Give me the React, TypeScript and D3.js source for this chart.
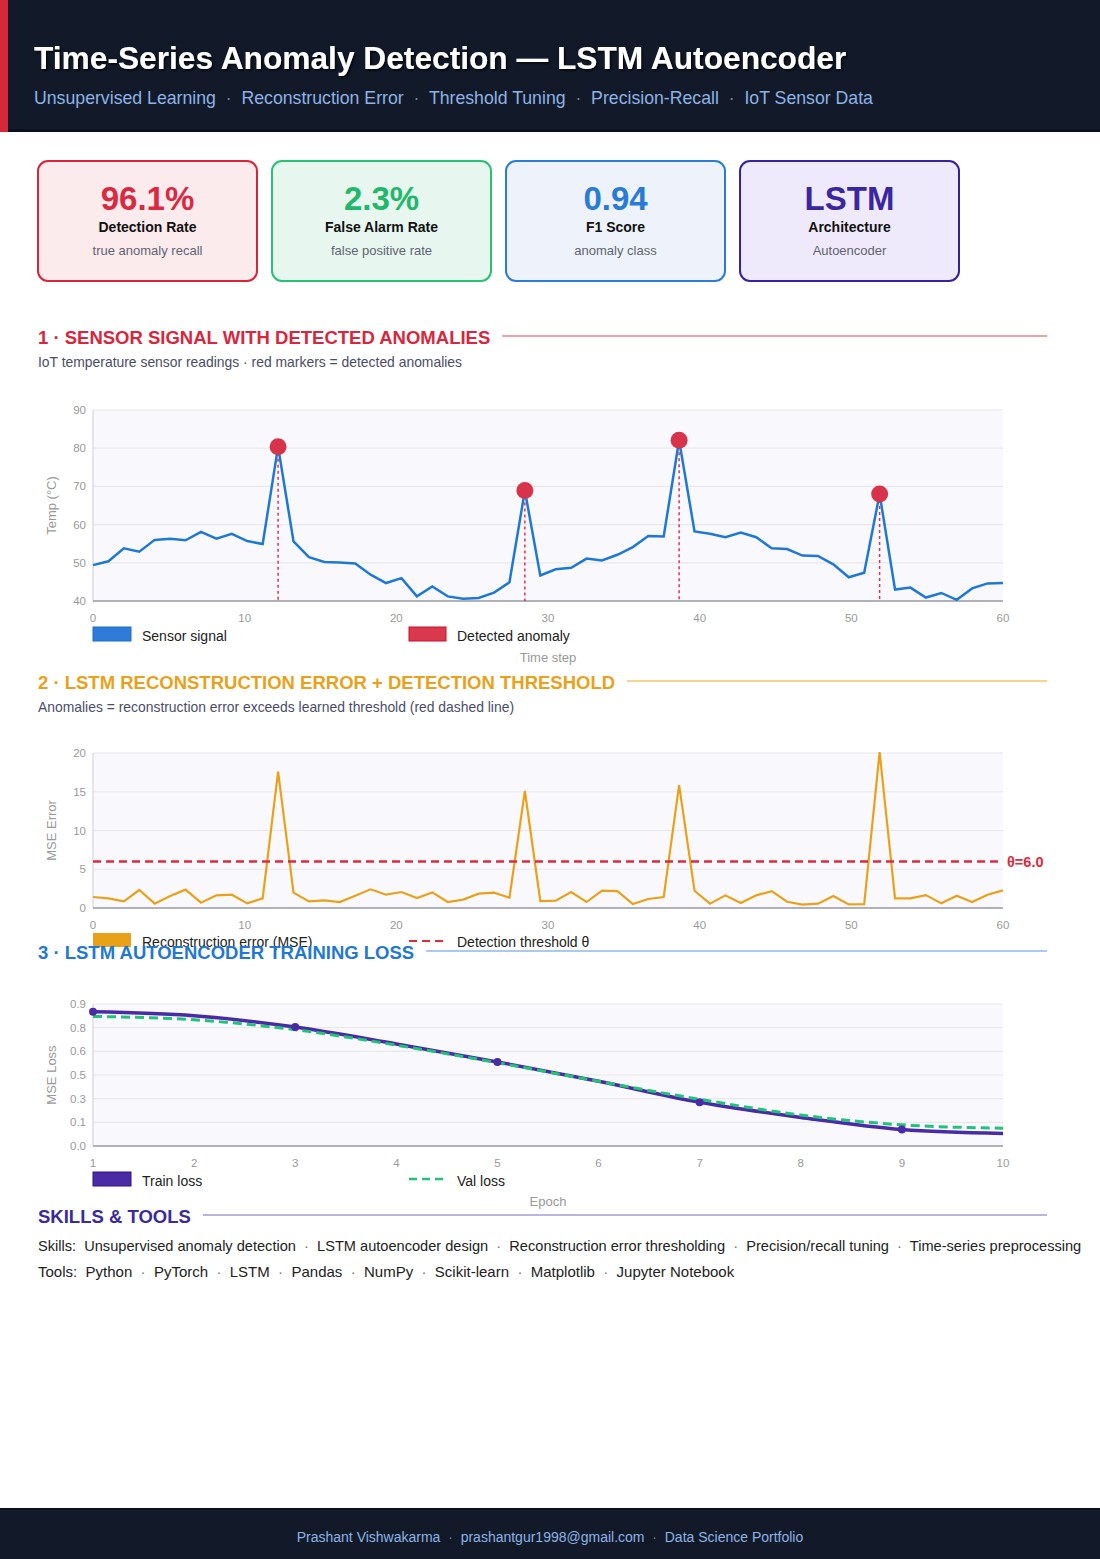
import React from "react";
import * as d3 from "d3";

const FONT = "'Liberation Sans', Arial, Helvetica, sans-serif";
const W = 1100;
const H = 1559;

// header + KPI cards
const headerTags = [
  "Unsupervised Learning",
  "Reconstruction Error",
  "Threshold Tuning",
  "Precision-Recall",
  "IoT Sensor Data",
];
const kpiValues = ["96.1%", "2.3%", "0.94", "LSTM"];
const kpiLabels = ["Detection Rate", "False Alarm Rate", "F1 Score", "Architecture"];
const kpiNotes = ["true anomaly recall", "false positive rate", "anomaly class", "Autoencoder"];

// sensor readings, one per time step
const sensorTemp = [
  49.4, 50.4, 53.8, 52.9, 56.0, 56.3, 55.9, 58.1, 56.3, 57.6,
  55.7, 54.9, 80.4, 55.6, 51.5, 50.2, 50.1, 49.8, 46.9, 44.7,
  46.0, 41.2, 43.8, 41.2, 40.6, 40.8, 42.2, 44.9, 68.9, 46.7,
  48.3, 48.7, 51.1, 50.6, 52.1, 54.1, 57.0, 56.9, 82.1, 58.2,
  57.6, 56.7, 57.9, 56.7, 53.8, 53.6, 51.9, 51.8, 49.6, 46.2,
  47.4, 68.0, 43.0, 43.5, 40.9, 42.1, 40.3, 43.3, 44.6, 44.7,
];
const anomalySteps = [12, 28, 38, 51];

// reconstruction MSE per time step
const reconError = [
  1.42, 1.25, 0.86, 2.32, 0.56, 1.55, 2.37, 0.69, 1.63, 1.72,
  0.6, 1.25, 17.6, 1.98, 0.86, 0.99, 0.77, 1.59, 2.41, 1.72,
  2.06, 1.29, 2.02, 0.77, 1.08, 1.85, 1.98, 1.33, 15.1, 0.9,
  0.95, 2.05, 0.77, 2.23, 2.18, 0.51, 1.16, 1.41, 15.85, 2.23,
  0.56, 1.63, 0.64, 1.63, 2.18, 0.81, 0.43, 0.56, 1.54, 0.47,
  0.51, 20.1, 1.24, 1.24, 1.67, 0.6, 1.58, 0.77, 1.71, 2.27,
];
const threshold = 6.0;

// training history
const epochs = [1, 2, 3, 4, 5, 6, 7, 8, 9, 10];
const trainLoss = [0.851, 0.826, 0.754, 0.647, 0.533, 0.41, 0.277, 0.181, 0.104, 0.079];
const valLoss = [0.821, 0.8, 0.737, 0.639, 0.528, 0.41, 0.296, 0.196, 0.134, 0.113];
const lossTicks = [0, 0.15, 0.3, 0.45, 0.6, 0.75, 0.9];
const markedEpochs = [1, 3, 5, 7, 9];

const skills = [
  "Unsupervised anomaly detection",
  "LSTM autoencoder design",
  "Reconstruction error thresholding",
  "Precision/recall tuning",
  "Time-series preprocessing",
];
const tools = ["Python", "PyTorch", "LSTM", "Pandas", "NumPy", "Scikit-learn", "Matplotlib", "Jupyter Notebook"];
const footerParts = ["Prashant Vishwakarma", "prashantgur1998@gmail.com", "Data Science Portfolio"];

const cardStyles = [
  { stroke: "#d9243c", fill: "#fcebec", value: "#d92a43" },
  { stroke: "#27c276", fill: "#e7f6ef", value: "#22b86c" },
  { stroke: "#2b7cd6", fill: "#eef3fb", value: "#2a7bd4" },
  { stroke: "#35229c", fill: "#efeafb", value: "#3a27a0" },
];

const PX0 = 93;
const PX1 = 1003;

const SectionTitle = ({ y, text, color, rule }: { y: number; text: string; color: string; rule: string }) => {
  const ref = React.useRef<SVGTextElement>(null);
  const [end, setEnd] = React.useState(500);
  React.useLayoutEffect(() => {
    if (ref.current) setEnd(38 + ref.current.getComputedTextLength());
  }, [text]);
  return (
    <g>
      <text ref={ref} x={38} y={y} fill={color} fontSize={18.5} fontWeight="bold">
        {text}
      </text>
      <line x1={end + 12} x2={1047} y1={y - 8} y2={y - 8} stroke={rule} strokeWidth={1.3} />
    </g>
  );
};

interface FrameProps {
  y: d3.ScaleLinear<number, number>;
  x: d3.ScaleLinear<number, number>;
  yTicks: number[];
  xTicks: number[];
  yFmt: (v: number) => string;
  yTitle: string;
}

const Frame = ({ y, x, yTicks, xTicks, yFmt, yTitle }: FrameProps) => {
  const [yBot, yTop] = y.range();
  return (
    <g>
      <rect x={PX0} y={yTop} width={PX1 - PX0} height={yBot - yTop} fill="#f9f9fd" />
      {yTicks.map((t) => (
        <line key={t} x1={PX0} x2={PX1} y1={y(t)} y2={y(t)} stroke="#e7e7ed" strokeWidth={1.2} />
      ))}
      <line x1={PX0} x2={PX0} y1={yTop} y2={yBot} stroke="#d3d3da" strokeWidth={1.2} />
      <line x1={PX0} x2={PX1} y1={yBot} y2={yBot} stroke="#9b9ba3" strokeWidth={1.5} />
      {yTicks.map((t) => (
        <text key={t} x={PX0 - 7} y={y(t)} dy="0.35em" textAnchor="end" fontSize={11.5} fill="#999">
          {yFmt(t)}
        </text>
      ))}
      {xTicks.map((t) => (
        <text key={t} x={x(t)} y={yBot + 21} textAnchor="middle" fontSize={11.5} fill="#999">
          {t}
        </text>
      ))}
      <text
        transform={`translate(56,${(yTop + yBot) / 2}) rotate(-90)`}
        textAnchor="middle"
        fontSize={13}
        fill="#999"
      >
        {yTitle}
      </text>
    </g>
  );
};

const Separated = ({ parts, sep, dotFill }: { parts: string[]; sep: string; dotFill?: string }) => (
  <>
    {parts.map((p, i) => (
      <React.Fragment key={p}>
        {i > 0 && <tspan fill={dotFill}>{sep}</tspan>}
        <tspan>{p}</tspan>
      </React.Fragment>
    ))}
  </>
);

export default function App() {
  // chart 1: sensor signal
  const y1 = d3.scaleLinear().domain([40, 90]).range([601, 410]);
  const xAxis1 = d3.scaleLinear().domain([0, 60]).range([PX0, PX1]);
  const xStep = d3.scaleLinear().domain([0, sensorTemp.length - 1]).range([PX0, PX1]);
  const sensorLine = d3
    .line<number>()
    .x((_, i) => xStep(i))
    .y((d) => y1(d));

  // chart 2: reconstruction error
  const y2 = d3.scaleLinear().domain([0, 20]).range([908, 753]);
  const errLine = d3
    .line<number>()
    .x((_, i) => xStep(i))
    .y((d) => y2(d));

  // chart 3: loss curves
  const y3 = d3.scaleLinear().domain([0, 0.9]).range([1146, 1004]);
  const x3 = d3.scaleLinear().domain([1, 10]).range([PX0, PX1]);
  const lossLine = d3
    .line<number>()
    .x((_, i) => x3(epochs[i]))
    .y((d) => y3(d))
    .curve(d3.curveMonotoneX);

  return (
    <div style={{ position: "absolute", left: 0, top: 0 }}>
      <svg width={W} height={H} fontFamily={FONT} style={{ display: "block", background: "#fff" }}>
        <defs>
          <filter id="titleShadow" x="-5%" y="-30%" width="110%" height="160%">
            <feDropShadow dx={1.5} dy={1.5} stdDeviation={1.2} floodColor="#000" floodOpacity={0.85} />
          </filter>
        </defs>

        {/* header band */}
        <rect x={0} y={0} width={W} height={132} fill="#121a2a" />
        <rect x={0} y={129} width={W} height={3} fill="#0b1020" />
        <rect x={0} y={0} width={8} height={132} fill="#d62839" />
        <text x={34} y={69} fill="#fff" fontSize={31.7} fontWeight="bold" filter="url(#titleShadow)">
          Time-Series Anomaly Detection — LSTM Autoencoder
        </text>
        <text x={34} y={104} fill="#8db3e4" fontSize={17.7} style={{ whiteSpace: "pre" }}>
          <Separated parts={headerTags} sep="  ·  " dotFill="#6a82a6" />
        </text>

        {/* KPI cards */}
        {kpiValues.map((v, i) => {
          const cx = 38 + i * 234;
          const s = cardStyles[i];
          return (
            <g key={v}>
              <rect x={cx} y={161} width={219} height={120} rx={10} fill={s.fill} stroke={s.stroke} strokeWidth={2} />
              <text x={cx + 109.5} y={210} textAnchor="middle" fontSize={33} fontWeight="bold" fill={s.value}>
                {v}
              </text>
              <text x={cx + 109.5} y={232} textAnchor="middle" fontSize={14} fontWeight="bold" fill="#111">
                {kpiLabels[i]}
              </text>
              <text x={cx + 109.5} y={255} textAnchor="middle" fontSize={13} fill="#5f6470">
                {kpiNotes[i]}
              </text>
            </g>
          );
        })}

        {/* section 1 */}
        <SectionTitle y={344} text="1 · SENSOR SIGNAL WITH DETECTED ANOMALIES" color="#d7263d" rule="#ec7c88" />
        <text x={38} y={367} fontSize={13.9} fill="#4a4d68">
          IoT temperature sensor readings · red markers = detected anomalies
        </text>
        <Frame y={y1} x={xAxis1} yTicks={[40, 50, 60, 70, 80, 90]} xTicks={[0, 10, 20, 30, 40, 50, 60]} yFmt={(v) => `${v}`} yTitle="Temp (°C)" />
        {anomalySteps.map((s) => (
          <line key={s} x1={xStep(s)} x2={xStep(s)} y1={y1(sensorTemp[s])} y2={601} stroke="#e0304a" strokeWidth={1.5} strokeDasharray="3,3" />
        ))}
        <path d={sensorLine(sensorTemp) || ""} fill="none" stroke="#1f78d4" strokeWidth={2.5} />
        {anomalySteps.map((s) => (
          <circle key={s} cx={xStep(s)} cy={y1(sensorTemp[s])} r={8.5} fill="#d7344b" />
        ))}
        <rect x={93} y={627} width={38} height={14} fill="#2f7bd8" stroke="#1e6cc8" />
        <text x={142} y={641} fontSize={14} fill="#222">Sensor signal</text>
        <rect x={409} y={627} width={37} height={14} fill="#d9384d" stroke="#c8102e" />
        <text x={457} y={641} fontSize={14} fill="#222">Detected anomaly</text>
        <text x={548} y={662} textAnchor="middle" fontSize={13} fill="#999">Time step</text>

        {/* section 2 */}
        <SectionTitle y={689} text="2 · LSTM RECONSTRUCTION ERROR + DETECTION THRESHOLD" color="#eaa11a" rule="#f2c767" />
        <text x={38} y={712} fontSize={13.9} fill="#4a4d68">
          Anomalies = reconstruction error exceeds learned threshold (red dashed line)
        </text>
        <Frame y={y2} x={xAxis1} yTicks={[0, 5, 10, 15, 20]} xTicks={[0, 10, 20, 30, 40, 50, 60]} yFmt={(v) => `${v}`} yTitle="MSE Error" />
        <path d={errLine(reconError) || ""} fill="none" stroke="#eaa11a" strokeWidth={2.2} />
        <line x1={PX0} x2={PX1} y1={y2(threshold)} y2={y2(threshold)} stroke="#dc2a3e" strokeWidth={2.3} strokeDasharray="8,5" />
        <text x={1007} y={y2(threshold)} dy="0.35em" fontSize={14.5} fontWeight="bold" fill="#dc2a3e">
          θ={threshold.toFixed(1)}
        </text>
        <rect x={93} y={933} width={38} height={14} fill="#eaa11a" />
        <text x={142} y={947} fontSize={14} fill="#222">Reconstruction error (MSE)</text>
        <line x1={409} x2={446} y1={941} y2={941} stroke="#dc2a3e" strokeWidth={2} strokeDasharray="8,5" />
        <text x={457} y={947} fontSize={14} fill="#222">Detection threshold θ</text>

        {/* section 3 */}
        <SectionTitle y={959} text="3 · LSTM AUTOENCODER TRAINING LOSS" color="#1f78d1" rule="#8db7e8" />
        <Frame y={y3} x={x3} yTicks={lossTicks} xTicks={epochs} yFmt={(v) => v.toFixed(1)} yTitle="MSE Loss" />
        <path d={lossLine(trainLoss) || ""} fill="none" stroke="#4a2ba6" strokeWidth={3.5} />
        <path d={lossLine(valLoss) || ""} fill="none" stroke="#22c27a" strokeWidth={3} strokeDasharray="9,5" />
        {markedEpochs.map((e) => (
          <circle key={e} cx={x3(e)} cy={y3(trainLoss[e - 1])} r={4} fill="#4a2ba6" />
        ))}
        <rect x={93} y={1172} width={38} height={14} fill="#4a2ba6" stroke="#2d138a" />
        <text x={142} y={1186} fontSize={14} fill="#222">Train loss</text>
        <line x1={409} x2={446} y1={1179} y2={1179} stroke="#22c27a" strokeWidth={2.5} strokeDasharray="8,5" />
        <text x={457} y={1186} fontSize={14} fill="#222">Val loss</text>
        <text x={548} y={1206} textAnchor="middle" fontSize={13} fill="#999">Epoch</text>

        {/* skills */}
        <SectionTitle y={1223} text="SKILLS & TOOLS" color="#3a2a9c" rule="#a39bd6" />
        <text x={38} y={1251} fontSize={14.6} fill="#222" style={{ whiteSpace: "pre" }}>
          <tspan>{"Skills:  "}</tspan>
          <Separated parts={skills} sep="  ·  " dotFill="#777" />
        </text>
        <text x={38} y={1277} fontSize={15} fill="#222" style={{ whiteSpace: "pre" }}>
          <tspan>{"Tools:  "}</tspan>
          <Separated parts={tools} sep="  ·  " dotFill="#777" />
        </text>

        {/* footer */}
        <rect x={0} y={1508} width={W} height={H - 1508} fill="#121a2a" />
        <rect x={0} y={1508} width={W} height={2} fill="#0b1020" />
        <text x={550} y={1542} textAnchor="middle" fontSize={14} fill="#8db3e4" style={{ whiteSpace: "pre" }}>
          <Separated parts={footerParts} sep="  ·  " dotFill="#6a82a6" />
        </text>
      </svg>
    </div>
  );
}
